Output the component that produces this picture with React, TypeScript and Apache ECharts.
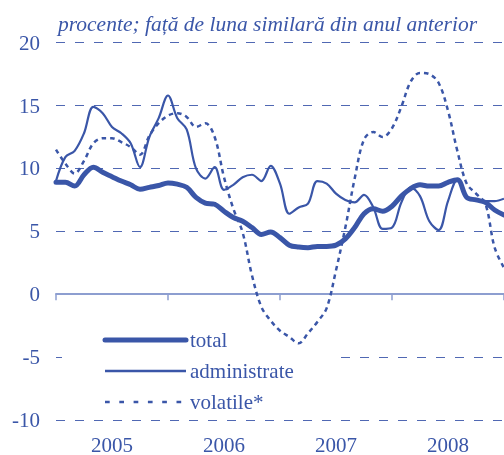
import React, { useEffect, useRef } from "react";
import * as echarts from "echarts";

// Monthly data, Jan 2005 (index 0) .. Jan 2009 (index 48)
const totalValues = [
  8.9, 8.9, 8.6, 9.5, 10.1, 9.7, 9.35, 9.0, 8.7, 8.35, 8.5, 8.65,
  8.85, 8.75, 8.5, 7.7, 7.25, 7.15, 6.6, 6.1, 5.8, 5.3, 4.75, 4.95,
  4.5, 3.9, 3.75, 3.7, 3.8, 3.8, 3.9, 4.4, 5.3, 6.4, 6.8, 6.6,
  7.0, 7.8, 8.4, 8.7, 8.6, 8.6, 8.9, 9.1, 7.7, 7.5, 7.3, 6.7,
  6.3,
];
const administrateValues = [
  9.0, 10.9, 11.4, 12.8, 14.9, 14.4, 13.3, 12.8, 12.0, 10.1, 12.5, 14.0,
  15.8, 14.0, 13.1, 10.0, 9.2, 10.1, 8.3, 8.7, 9.3, 9.5, 9.0, 10.2,
  8.8, 6.4, 6.9, 7.2, 9.0, 8.8, 8.0, 7.5, 7.3, 7.9, 6.9, 5.2,
  5.3, 7.3, 8.5, 7.8, 5.8, 5.1, 7.4, 9.1, 7.8, 7.5, 7.4, 7.4,
  7.6,
];
const volatileValues = [
  11.5, 10.4, 9.6, 10.6, 12.0, 12.4, 12.4, 12.1, 11.7, 11.1, 12.6, 13.6,
  14.2, 14.4, 14.1, 13.3, 13.6, 12.5, 9.3, 6.8, 4.9, 1.5, -1.0, -2.1,
  -2.9, -3.4, -3.9, -3.1, -2.2, -1.1, 1.9, 5.3, 9.2, 12.3, 12.9, 12.5,
  13.2, 14.9, 16.9, 17.6, 17.5, 16.8, 14.6, 11.4, 8.8, 8.0, 7.2, 3.7,
  2.1,
];
const yearLabels = ["2005", "2006", "2007", "2008"];
const seriesNames = ["total", "administrate", "volatile*"];
const titleText = "procente; față de luna similară din anul anterior";

const BLUE = "#3a56a8";
const AXIS = "#8d9ed0";
const FONT = "Liberation Serif";

export default function App() {
  const ref = useRef<HTMLDivElement>(null);
  useEffect(() => {
    if (!ref.current) return;
    const chart = echarts.init(ref.current, undefined, { renderer: "svg" });
    const toPairs = (arr: number[]) => arr.map((v, i) => [i, v]);
    const legendY = [340, 371, 402];
    const legendStyles = [
      { lineWidth: 5, lineDash: null as any, lineCap: "round" },
      { lineWidth: 2.4, lineDash: null as any, lineCap: "butt" },
      { lineWidth: 2.4, lineDash: [4.7, 9.6], lineCap: "butt" },
    ];
    const legendGraphics: any[] = [];
    seriesNames.forEach((name, k) => {
      legendGraphics.push({
        type: "line",
        z: 10,
        shape: { x1: 105, y1: legendY[k], x2: 186, y2: legendY[k] },
        style: {
          stroke: BLUE,
          lineWidth: legendStyles[k].lineWidth,
          lineDash: legendStyles[k].lineDash,
          lineCap: legendStyles[k].lineCap,
        },
      });
      legendGraphics.push({
        type: "text",
        z: 10,
        x: 190,
        y: legendY[k],
        style: {
          text: name,
          fill: BLUE,
          fontSize: 21,
          fontFamily: FONT,
          verticalAlign: "middle",
        },
      });
    });
    chart.setOption({
      animation: false,
      textStyle: { fontFamily: FONT },
      grid: { left: 56, right: -2, top: 42.7, bottom: 32.5, containLabel: false },
      xAxis: [
        {
          type: "value",
          min: 0,
          max: 48,
          interval: 12,
          axisLine: { show: true, onZero: true, lineStyle: { color: AXIS, width: 2 } },
          axisTick: { show: true, inside: false, length: 6, lineStyle: { color: AXIS, width: 1.5 } },
          axisLabel: { show: false },
          splitLine: { show: false },
        },
        {
          type: "category",
          data: yearLabels,
          position: "bottom",
          boundaryGap: true,
          axisLine: { show: false, onZero: false },
          axisTick: { show: false },
          splitLine: { show: false },
          axisLabel: { color: BLUE, fontSize: 21, fontFamily: FONT, margin: 14 },
        },
      ],
      yAxis: {
        type: "value",
        min: -10,
        max: 20,
        interval: 5,
        axisLine: { show: false },
        axisTick: { show: false },
        axisLabel: { color: BLUE, fontSize: 21, fontFamily: FONT, margin: 16 },
        splitLine: { show: true, lineStyle: { color: "#5068b3", width: 1.2, type: [9, 10] } },
      },
      graphic: [
        {
          type: "text",
          x: 58,
          y: 24.4,
          style: {
            text: titleText,
            fill: BLUE,
            fontSize: 21.5,
            fontStyle: "italic",
            fontFamily: FONT,
            verticalAlign: "middle",
          },
        },
        {
          type: "rect",
          z: 1,
          shape: { x: 62, y: 353, width: 275, height: 14 },
          style: { fill: "#ffffff" },
        },
        ...legendGraphics,
      ],
      series: [
        {
          name: seriesNames[0],
          type: "line",
          xAxisIndex: 0,
          data: toPairs(totalValues),
          smooth: 0.35,
          symbol: "none",
          z: 4,
          lineStyle: { color: BLUE, width: 5, cap: "round", join: "round" },
        },
        {
          name: seriesNames[1],
          type: "line",
          xAxisIndex: 0,
          data: toPairs(administrateValues),
          smooth: 0.35,
          symbol: "none",
          z: 3,
          lineStyle: { color: BLUE, width: 2.2 },
        },
        {
          name: seriesNames[2],
          type: "line",
          xAxisIndex: 0,
          data: toPairs(volatileValues),
          smooth: 0.35,
          symbol: "none",
          z: 3,
          lineStyle: { color: BLUE, width: 2.5, type: [4.5, 4] },
        },
      ],
    });
    return () => chart.dispose();
  }, []);
  return (
    <div style={{ fontFamily: FONT }}>
      <span style={{ fontFamily: FONT, fontSize: 1, color: "#ffffff", position: "absolute", left: 0, top: 0 }}>&nbsp;</span>
      <div
        ref={ref}
        style={{ position: "fixed", left: 0, top: 0, width: 504, height: 455, fontFamily: FONT }}
      />
    </div>
  );
}
